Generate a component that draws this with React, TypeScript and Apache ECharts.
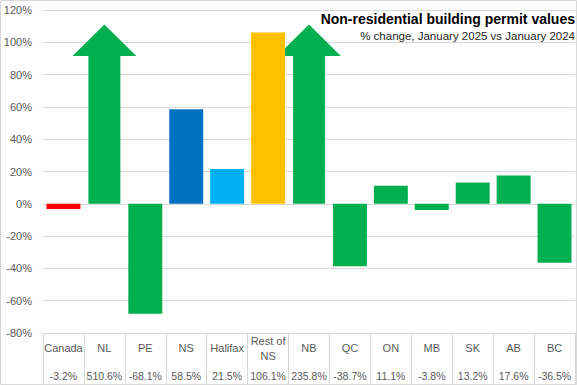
import React, { useEffect, useRef } from 'react';
import * as echarts from 'echarts';

const categories = ['Canada', 'NL', 'PE', 'NS', 'Halifax', 'Rest of\nNS', 'NB', 'QC', 'ON', 'MB', 'SK', 'AB', 'BC'];
const values = [-3.2, 510.6, -68.1, 58.5, 21.5, 106.1, 235.8, -38.7, 11.1, -3.8, 13.2, 17.6, -36.5];
const barColors = ['#FF0000', '#00B050', '#00B050', '#0070C0', '#00B0F0', '#FFC000', '#00B050', '#00B050', '#00B050', '#00B050', '#00B050', '#00B050', '#00B050'];
const valueLabels = values.map((v) => v.toFixed(1) + '%');

const Y_MIN = -80;
const Y_MAX = 120;
const Y_INTERVAL = 20;
const ARROW_TIP = 111;
const ARROW_HEAD_BASE = 91.5;

const TITLE = 'Non-residential building permit values';
const SUBTITLE = '% change, January 2025 vs January 2024';

const FONT = '"Liberation Sans", Arial, sans-serif';
const GRAY = '#595959';
const LINE = '#d9d9d9';

export default function App() {
  const ref = useRef<HTMLDivElement>(null);
  useEffect(() => {
    if (!ref.current) return;
    const chart = echarts.init(ref.current, undefined, { renderer: 'svg' });
    chart.setOption({
      animation: false,
      backgroundColor: '#ffffff',
      grid: { left: 43, right: 2, top: 10, bottom: 52, containLabel: false },
      graphic: [
        {
          type: 'rect',
          shape: { x: 0.5, y: 0.5, width: 576, height: 384 },
          style: { fill: 'none', stroke: LINE, lineWidth: 1 },
          silent: true,
          z: -10,
        },
        {
          type: 'text',
          right: 2,
          top: 12,
          style: { text: TITLE, font: `bold 14px ${FONT}`, fill: '#000000', textAlign: 'right' },
          z: 100,
        },
        {
          type: 'text',
          right: 2,
          top: 30,
          style: { text: SUBTITLE, font: `11.5px ${FONT}`, fill: '#262626', textAlign: 'right' },
          z: 100,
        },
      ],
      xAxis: [
        {
          type: 'category',
          data: categories,
          position: 'bottom',
          axisLine: { show: true, onZero: false, lineStyle: { color: LINE } },
          axisTick: { show: true, interval: 0, length: 52, alignWithLabel: false, lineStyle: { color: LINE } },
          axisLabel: {
            interval: 0,
            margin: 15,
            verticalAlign: 'middle',
            color: GRAY,
            fontFamily: FONT,
            fontSize: 11,
            lineHeight: 15,
          },
          splitLine: { show: false },
        },
        {
          type: 'category',
          data: categories,
          position: 'bottom',
          axisLine: { show: false },
          axisTick: { show: false },
          axisLabel: {
            interval: 0,
            margin: 43,
            verticalAlign: 'middle',
            color: GRAY,
            fontFamily: FONT,
            fontSize: 10.5,
            formatter: (_v: string, i: number) => valueLabels[i],
          },
          splitLine: { show: false },
        },
      ],
      yAxis: {
        type: 'value',
        min: Y_MIN,
        max: Y_MAX,
        interval: Y_INTERVAL,
        axisLine: { show: false },
        axisTick: { show: false },
        axisLabel: {
          formatter: '{value}%',
          color: GRAY,
          fontFamily: FONT,
          fontSize: 11,
          margin: 11,
        },
        splitLine: { show: true, lineStyle: { color: LINE, width: 1 } },
      },
      series: [
        {
          type: 'bar',
          xAxisIndex: 0,
          barCategoryGap: '17%',
          data: values.map((v, i) => (v > Y_MAX ? null : { value: v, itemStyle: { color: barColors[i] } })),
        },
        {
          type: 'custom',
          xAxisIndex: 0,
          clip: false,
          data: values.map((v, i) => [i, v]).filter((d) => d[1] > Y_MAX),
          encode: { x: 0, y: 1 },
          renderItem: (params: any, api: any) => {
            const idx = api.value(0);
            const base = api.coord([idx, 0]);
            const tip = api.coord([idx, ARROW_TIP]);
            const hb = api.coord([idx, ARROW_HEAD_BASE]);
            const w = api.size([1, 0])[0];
            const cx = base[0];
            const sh = w * 0.39;
            const hh = w * 0.78;
            return {
              type: 'polygon',
              shape: {
                points: [
                  [cx - sh, base[1]],
                  [cx - sh, hb[1]],
                  [cx - hh, hb[1]],
                  [cx, tip[1]],
                  [cx + hh, hb[1]],
                  [cx + sh, hb[1]],
                  [cx + sh, base[1]],
                ],
              },
              style: { fill: barColors[idx] },
            };
          },
        },
      ],
    });
    return () => chart.dispose();
  }, []);
  return <div ref={ref} style={{ position: 'absolute', left: 0, top: 0, width: 577, height: 385 }} />;
}
